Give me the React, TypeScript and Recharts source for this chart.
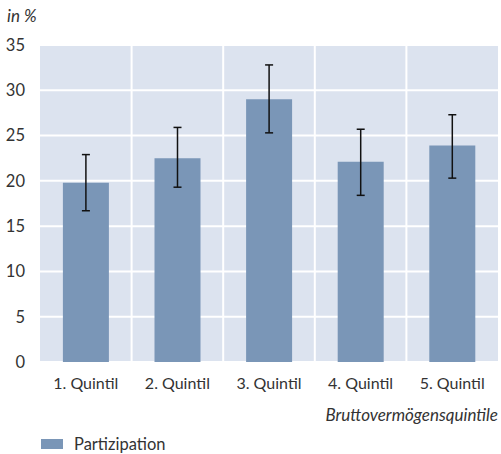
import { Bar, BarChart, CartesianGrid, ErrorBar, Legend, XAxis, YAxis } from "recharts";

const quintiles = ["1. Quintil", "2. Quintil", "3. Quintil", "4. Quintil", "5. Quintil"];
const participation = [19.8, 22.5, 29.0, 22.1, 23.9];
const ciLower = [16.7, 19.3, 25.3, 18.4, 20.3];
const ciUpper = [22.9, 25.9, 32.8, 25.7, 27.3];
const yTicks = [0, 5, 10, 15, 20, 25, 30, 35];

const FONT = "Lato, 'Open Sans', sans-serif";
const BAR = "#7a96b7";

const data = quintiles.map((name, i) => ({
  name,
  value: participation[i],
  err: [participation[i] - ciLower[i], ciUpper[i] - participation[i]]
}));

function LegendContent() {
  return (
    <div
      style={{
        display: "flex",
        alignItems: "center",
        paddingLeft: 41,
        paddingTop: 10,
        fontFamily: FONT,
        fontSize: 16.5,
        color: "#333"
      }}
    >
      <span style={{ display: "inline-block", width: 22, height: 10, background: BAR, marginRight: 11 }} />
      <span>Partizipation</span>
    </div>
  );
}

export default function App() {
  return (
    <div style={{ position: "absolute", left: 0, top: 0, width: 501, height: 454, background: "#fff" }}>
      <BarChart
        width={501}
        height={454}
        data={data}
        margin={{ top: 45, right: 3, bottom: 0, left: 0 }}
        barCategoryGap="25%"
      >
        <CartesianGrid
          fill="#dce3ef"
          stroke="#ffffff"
          strokeWidth={2}
          verticalCoordinatesGenerator={({ offset }: any) =>
            [1, 2, 3, 4].map((i) => offset.left + (i * offset.width) / quintiles.length)
          }
        />
        <XAxis
          dataKey="name"
          axisLine={false}
          tickLine={false}
          tickSize={0}
          tickMargin={16}
          height={62}
          tick={{ fill: "#333", fontSize: 16, fontFamily: FONT }}
          label={({ viewBox }: any) => (
            <text
              x={viewBox.x + viewBox.width}
              y={viewBox.y + 59}
              textAnchor="end"
              fill="#333"
              fontSize={17}
              fontStyle="italic"
              fontFamily={FONT}
            >
              Bruttovermögensquintile
            </text>
          )}
        />
        <YAxis
          domain={[0, 35]}
          ticks={yTicks}
          width={40}
          axisLine={false}
          tickLine={false}
          tickSize={0}
          tickMargin={15}
          tick={{ fill: "#333", fontSize: 16.5, fontFamily: FONT }}
          label={() => (
            <text x={7} y={22} fill="#333" fontSize={17} fontStyle="italic" fontFamily={FONT}>
              in %
            </text>
          )}
        />
        <Legend verticalAlign="bottom" height={30} content={LegendContent} wrapperStyle={{ left: 0, bottom: 0 }} />
        <Bar dataKey="value" name="Partizipation" fill={BAR} isAnimationActive={false}>
          <ErrorBar dataKey="err" width={4} stroke="#111" strokeWidth={1.5} isAnimationActive={false} />
        </Bar>
      </BarChart>
    </div>
  );
}
